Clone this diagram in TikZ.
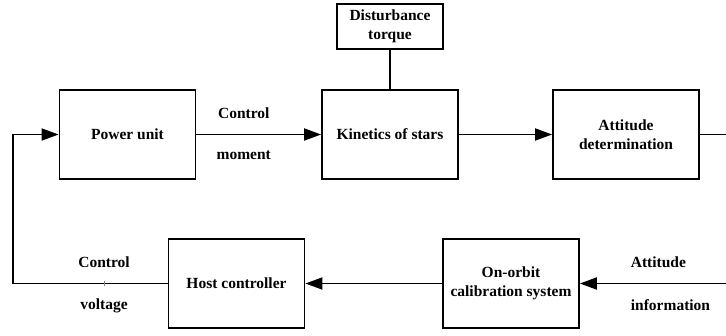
\documentclass[tikz,border=0pt]{standalone}
\usepackage{fontspec}
\setmainfont{Liberation Serif}
\usetikzlibrary{arrows.meta,positioning}

\begin{document}
\begin{tikzpicture}[x=1pt,y=1pt,>={Triangle[length=17pt,width=12pt]},line width=1.8pt,on grid,
font=\fontsize{15.5}{19}\selectfont\bfseries,
blockbox/.style={draw,minimum width=136pt,minimum height=89pt,align=center,inner sep=2pt}]
\useasboundingbox (0,0) rectangle (726,-336);
\node[blockbox] (power) at (127.5,-134.5) {Power unit};
\node[blockbox] (kin) [right=262.5pt of power] {Kinetics of stars};
\node[blockbox,minimum width=146pt] (att) [right=236pt of kin] {Attitude\\determination};
\node[blockbox,minimum width=106pt,minimum height=45pt] (dist) [above=108pt of kin] {Disturbance\\torque};
\node[blockbox] (host) at (236.5,-283.5) {Host controller};
\node[blockbox] (orbit) [right=274.5pt of host] {On-orbit\\calibration system};
\coordinate (rtop) at (726,-134.5);
\coordinate (rbot) at (726,-283.5);
% forward path
\draw[->] (power) -- node[pos=0.38,yshift=21pt] {Control} node[pos=0.38,yshift=-21pt] {moment} (kin);
\draw[->] (kin) -- (att);
\draw (att) -- (rtop);
\draw (dist) -- (kin);
% feedback path
\draw[->] (rbot) -- node[pos=0.68,anchor=west,yshift=21pt] {Attitude} node[pos=0.68,anchor=west,yshift=-22pt] {information} (orbit);
\draw[->] (orbit) -- (host);
\draw[->] (host.west) -- node[pos=0.41,yshift=21pt] {Control} node[pos=0.41,yshift=-22pt] {voltage} coordinate[pos=0.41] (vtick) ++(-155,0) |- (power);
\draw[line width=0.5pt,gray] ([yshift=2.5pt]vtick) -- ([yshift=-2.5pt]vtick);
\end{tikzpicture}
\end{document}
